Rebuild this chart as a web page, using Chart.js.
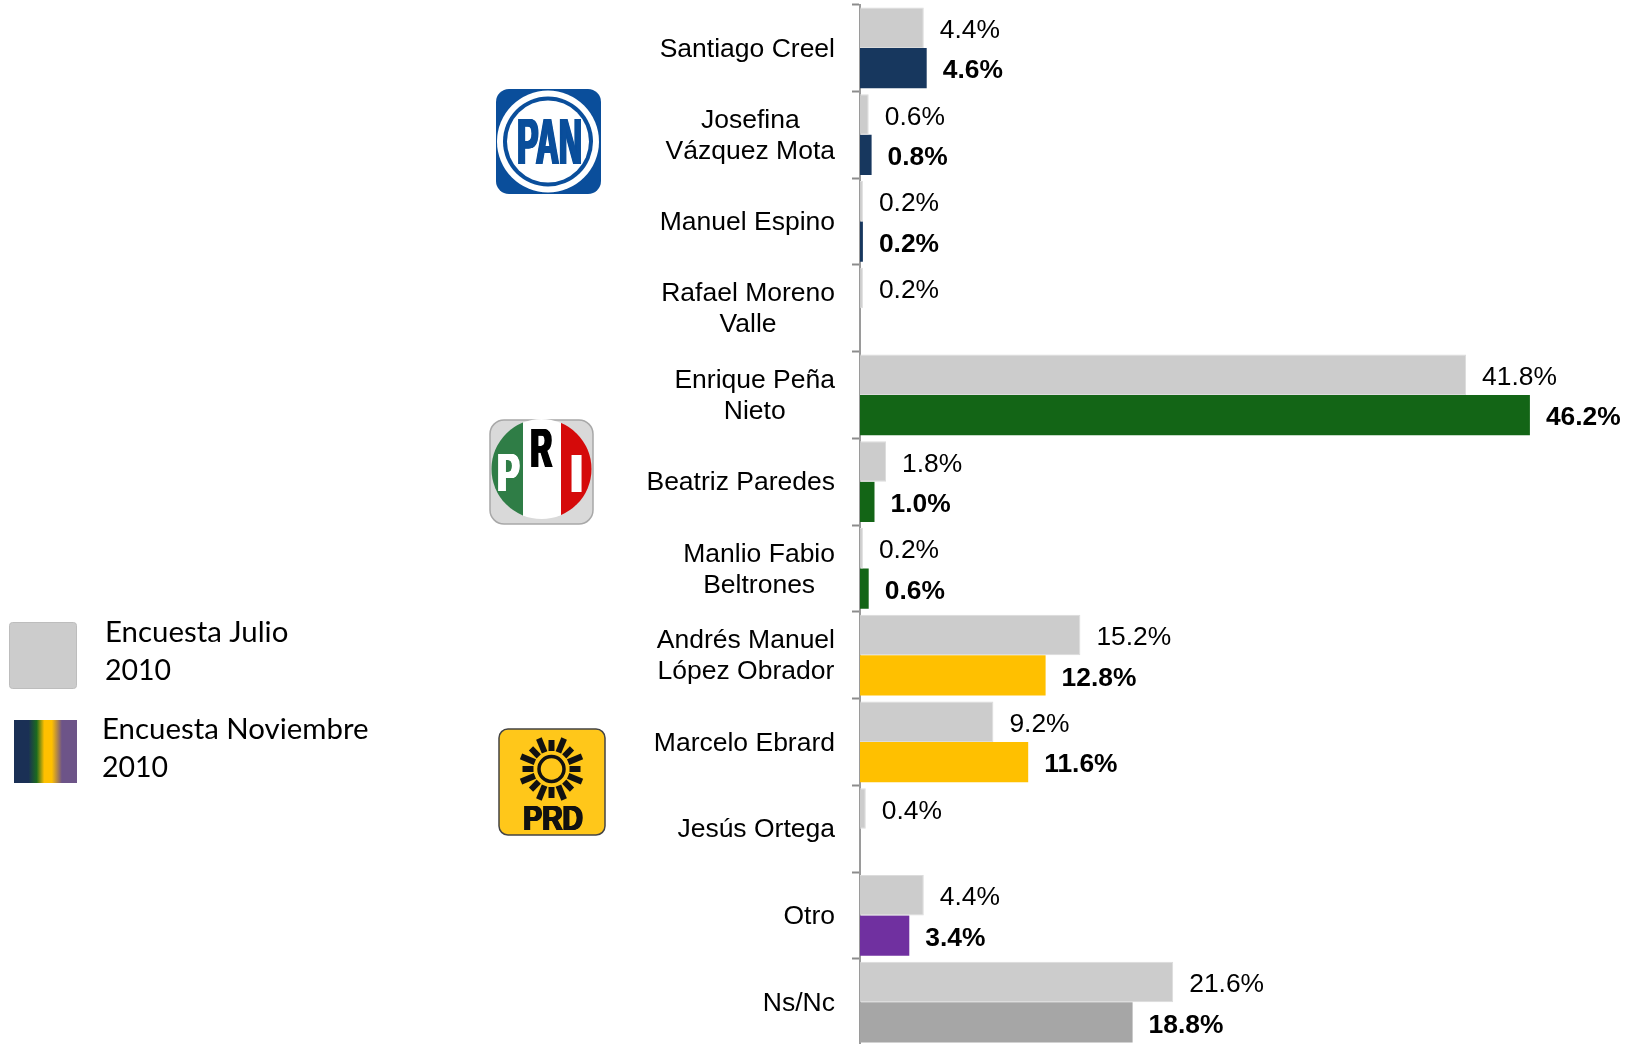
<!DOCTYPE html>
<html>
<head>
<meta charset="utf-8">
<title>Encuesta</title>
<script src="https://cdn.jsdelivr.net/npm/chart.js@4/dist/chart.umd.min.js"></script>
<style>
  html, body { margin: 0; padding: 0; background: #fff; overflow: hidden; }
  canvas { display: block; }
</style>
</head>
<body>
<canvas id="encuesta-chart" width="1632" height="1050"></canvas>
<script>
const categories = [
    ['Santiago Creel'],
    ['Josefina', 'Vázquez Mota'],
    ['Manuel Espino'],
    ['Rafael Moreno', 'Valle'],
    ['Enrique Peña', 'Nieto'],
    ['Beatriz Paredes'],
    ['Manlio Fabio', 'Beltrones'],
    ['Andrés Manuel', 'López Obrador'],
    ['Marcelo Ebrard'],
    ['Jesús Ortega'],
    ['Otro'],
    ['Ns/Nc'],
];
const julio = [4.4, 0.6, 0.2, 0.2, 41.8, 1.8, 0.2, 15.2, 9.2, 0.4, 4.4, 21.6];
const noviembre = [4.6, 0.8, 0.2, null, 46.2, 1.0, 0.6, 12.8, 11.6, null, 3.4, 18.8];
const seriesNames = ['Encuesta Julio 2010', 'Encuesta Noviembre 2010'];

const NAVY = '#17375e', GREEN = '#136516', YELLOW = '#ffc000', PURPLE = '#7030a0', GREY = '#a6a6a6';
const novColors = [NAVY, NAVY, NAVY, NAVY, GREEN, GREEN, GREEN, YELLOW, YELLOW, YELLOW, PURPLE, GREY];

function roundRect(ctx, x, y, w, h, r) {
    ctx.beginPath();
    ctx.roundRect(x, y, w, h, r);
}

// squeezes a word into a box, the party logos use tall condensed letters
// heavy = how many px to thicken the strokes sideways
function fitText(ctx, text, x0, y0, x1, y1, color, heavy = 0) {
    ctx.save();
    ctx.font = 'bold 100px "Liberation Sans"';
    ctx.textAlign = 'left';
    ctx.textBaseline = 'alphabetic';
    ctx.fillStyle = color;
    const m = ctx.measureText(text);
    const w = m.actualBoundingBoxLeft + m.actualBoundingBoxRight;
    const h = m.actualBoundingBoxAscent + m.actualBoundingBoxDescent;
    for (let dx = 0; dx <= heavy; dx += 0.5) {
        ctx.save();
        ctx.translate(x0 + dx, y0);
        ctx.scale((x1 - x0 - heavy) / w, (y1 - y0) / h);
        ctx.fillText(text, m.actualBoundingBoxLeft, m.actualBoundingBoxAscent);
        ctx.restore();
    }
    ctx.restore();
}

function drawPan(ctx) {
    ctx.fillStyle = '#0a4e9b';
    roundRect(ctx, 496, 89, 105, 105, 13);
    ctx.fill();
    ctx.fillStyle = '#fff';
    ctx.beginPath(); ctx.arc(548, 141.5, 51, 0, Math.PI * 2); ctx.fill();
    ctx.fillStyle = '#0a4e9b';
    ctx.beginPath(); ctx.arc(548, 141.5, 45, 0, Math.PI * 2); ctx.fill();
    ctx.fillStyle = '#fff';
    ctx.beginPath(); ctx.arc(548, 141.5, 41, 0, Math.PI * 2); ctx.fill();
    fitText(ctx, 'PAN', 518, 119, 581, 165, '#0a4e9b', 2.5);
}

function drawPri(ctx) {
    ctx.fillStyle = '#d9d9d9';
    ctx.strokeStyle = '#a8a8a8';
    ctx.lineWidth = 1.5;
    roundRect(ctx, 490, 420, 103, 104, 14);
    ctx.fill();
    ctx.stroke();
    ctx.save();
    ctx.beginPath(); ctx.arc(541.5, 469, 50, 0, Math.PI * 2); ctx.clip();
    ctx.fillStyle = '#2f7d46'; ctx.fillRect(490, 418, 33, 102);
    ctx.fillStyle = '#fff'; ctx.fillRect(523, 418, 38, 102);
    ctx.fillStyle = '#d50a0a'; ctx.fillRect(561, 418, 33, 102);
    ctx.restore();
    fitText(ctx, 'P', 498, 455, 520, 492, '#fff', 3);
    fitText(ctx, 'R', 531, 429, 553, 467, '#000', 3);
    fitText(ctx, 'I', 571, 455, 582, 492, '#fff');
}

function drawPrd(ctx) {
    const cx = 551.5, cy = 769;
    ctx.fillStyle = '#ffc71a';
    ctx.strokeStyle = '#444';
    ctx.lineWidth = 1.5;
    roundRect(ctx, 499, 729, 106, 106, 9);
    ctx.fill();
    ctx.stroke();
    ctx.strokeStyle = '#111';
    ctx.lineWidth = 3.5;
    ctx.beginPath(); ctx.arc(cx, cy, 12.5, 0, Math.PI * 2); ctx.stroke();
    ctx.lineWidth = 6;
    for (let i = 0; i < 16; i++) {
        const a = i * Math.PI / 8;
        const r1 = i % 2 ? 33 : 29;
        ctx.beginPath();
        ctx.moveTo(cx + 18 * Math.cos(a), cy + 18 * Math.sin(a));
        ctx.lineTo(cx + r1 * Math.cos(a), cy + r1 * Math.sin(a));
        ctx.stroke();
    }
    fitText(ctx, 'PRD', 524, 805, 583, 830, '#111', 2);
}

function drawLegend(ctx) {
    ctx.fillStyle = '#cccccc';
    ctx.strokeStyle = '#bdbdbd';
    ctx.lineWidth = 1;
    roundRect(ctx, 9.5, 622.5, 67, 66, 3);
    ctx.fill();
    ctx.stroke();
    const g = ctx.createLinearGradient(14, 0, 77, 0);
    g.addColorStop(0, '#1a3055');
    g.addColorStop(0.23, '#1a3055');
    g.addColorStop(0.36, '#1c6a1f');
    g.addColorStop(0.48, '#ffc000');
    g.addColorStop(0.6, '#ffc000');
    g.addColorStop(0.76, '#6d5488');
    g.addColorStop(1, '#6d5488');
    ctx.fillStyle = g;
    ctx.fillRect(14, 720, 63, 63);
    ctx.fillStyle = '#000';
    ctx.textAlign = 'left';
    ctx.textBaseline = 'alphabetic';
    ctx.font = '29.4px Lato';
    ctx.fillText('Encuesta Julio', 105, 642);
    ctx.fillText('Encuesta Noviembre', 102, 739);
    ctx.font = '28.5px Lato';
    ctx.fillText('2010', 105, 680);
    ctx.fillText('2010', 102, 777);
}

const extras = {
    id: 'extras',
    afterDraw(chart) {
        const ctx = chart.ctx;
        const y = chart.scales.y;
        ctx.save();
        // candidate names, lines centered on each other, block flush right
        ctx.fillStyle = '#000';
        ctx.font = '26.5px "Liberation Sans"';
        ctx.textAlign = 'center';
        ctx.textBaseline = 'middle';
        categories.forEach((lines, i) => {
            const widest = Math.max(...lines.map(l => ctx.measureText(l).width));
            lines.forEach((l, j) => {
                ctx.fillText(l, 835 - widest / 2, y.getPixelForTick(i) + 1.5 + (j - (lines.length - 1) / 2) * 31);
            });
        });
        // value labels
        ctx.textAlign = 'left';
        chart.data.datasets.forEach((ds, d) => {
            ctx.font = (d === 1 ? 'bold ' : '') + '26.4px "Liberation Sans"';
            chart.getDatasetMeta(d).data.forEach((bar, i) => {
                if (ds.data[i] === null) return;
                ctx.fillText(ds.data[i].toFixed(1) + '%', bar.x + 16, bar.y + 3);
            });
        });
        drawPan(ctx);
        drawPri(ctx);
        drawPrd(ctx);
        drawLegend(ctx);
        ctx.restore();
    },
};

const config = {
    type: 'bar',
    data: {
        labels: categories,
        datasets: [{
            label: seriesNames[0],
            data: julio,
            backgroundColor: '#cccccc',
            borderColor: '#dcdcdc',
            borderWidth: 1,
            borderSkipped: 'left',
        }, {
            label: seriesNames[1],
            data: noviembre,
            backgroundColor: novColors,
        }],
    },
    options: {
        indexAxis: 'y',
        responsive: false,
        animation: false,
        categoryPercentage: 0.93,
        barPercentage: 1,
        layout: { padding: { left: 852, right: 47, top: 4.5, bottom: 4.5 } },
        plugins: { legend: { display: false }, tooltip: { enabled: false } },
        scales: {
            x: { display: false, min: 0, max: 50 },
            y: {
                ticks: { display: false },
                border: { color: '#9a9a9a', width: 2 },
                grid: { drawOnChartArea: false, drawTicks: true, tickLength: 8, tickColor: '#8c8c8c', tickWidth: 2 },
            },
        },
    },
    plugins: [extras],
};

new Chart(document.querySelector('#encuesta-chart'), config);
</script>
</body>
</html>
